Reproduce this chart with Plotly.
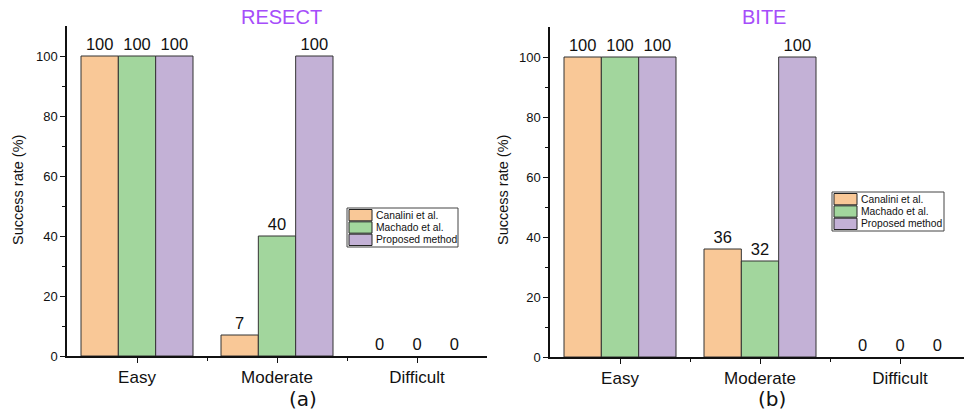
import plotly.graph_objects as go

categories = ["Easy", "Moderate", "Difficult"]
methods = ["Canalini et al.", "Machado et al.", "Proposed method"]
resect_values = {
    "Canalini et al.": [100, 7, 0],
    "Machado et al.": [100, 40, 0],
    "Proposed method": [100, 100, 0],
}
bite_values = {
    "Canalini et al.": [100, 36, 0],
    "Machado et al.": [100, 32, 0],
    "Proposed method": [100, 100, 0],
}
panel_titles = ["RESECT", "BITE"]
panel_labels = ["(a)", "(b)"]
y_ticks = [0, 20, 40, 60, 80, 100]

colors = {"Canalini et al.": "#f9c897", "Machado et al.": "#a2d69d", "Proposed method": "#c3b1d6"}
FONT = "Liberation Sans, Arial, sans-serif"
W, H = 964, 414

fig = go.Figure()
xpos = list(range(len(categories)))

for pi, data in enumerate([resect_values, bite_values]):
    xa = "x" if pi == 0 else "x2"
    ya = "y" if pi == 0 else "y2"
    for m in methods:
        fig.add_trace(go.Bar(
            x=xpos, y=data[m], name=m, xaxis=xa, yaxis=ya, showlegend=False,
            marker=dict(color=colors[m],
                        line=dict(color="#333333", width=[1 if v > 0 else 0 for v in data[m]])),
            text=[str(v) for v in data[m]], textposition="outside",
            textfont=dict(size=16.5, color="#111111", family=FONT),
            cliponaxis=False,
        ))

axis_common = dict(showline=True, linecolor="#111111", linewidth=1.5, ticks="outside",
                   tickcolor="#111111", showgrid=False, zeroline=False, automargin=False)
minor_x = dict(tickvals=[0.5, 1.5], ticklen=3, ticks="outside", tickcolor="#111111")
minor_y = dict(tickvals=[10, 30, 50, 70, 90], ticklen=3, ticks="outside", tickcolor="#111111")

fig.update_layout(
    width=W, height=H, margin=dict(l=0, r=0, t=0, b=0, autoexpand=False),
    plot_bgcolor="white", paper_bgcolor="white",
    barmode="group", bargap=0.2, bargroupgap=0,
    font=dict(family=FONT, color="#111111"),
    showlegend=False,
    xaxis=dict(domain=[67 / W, 487 / W], range=[-0.5, 2.5], tickvals=xpos, ticktext=categories,
               ticklen=5, tickfont=dict(size=17), anchor="y", minor=minor_x, **axis_common),
    yaxis=dict(domain=[(H - 356) / H, (H - 26) / H], range=[0, 110], tickvals=y_ticks, ticklen=5,
               tickfont=dict(size=13), anchor="x", minor=minor_y, **axis_common),
    xaxis2=dict(domain=[550 / W, 1.0], range=[-0.5, -0.5 + 414 / 140], tickvals=xpos, ticktext=categories,
                ticklen=5, tickfont=dict(size=17), anchor="y2", minor=minor_x, **axis_common),
    yaxis2=dict(domain=[(H - 357) / H, (H - 27) / H], range=[0, 110], tickvals=y_ticks, ticklen=5,
                tickfont=dict(size=13), anchor="x2", minor=minor_y, **axis_common),
)

# panel titles, y titles, panel labels
title_x = [281, 764]
ytitle_x = [18, 503]
label_x = [303, 772]
for i in range(2):
    fig.add_annotation(text=panel_titles[i], x=title_x[i] / W, y=1 - 17 / H, xref="paper", yref="paper",
                       showarrow=False, font=dict(size=20, color="#a64dfa", family=FONT),
                       xanchor="center", yanchor="middle")
    fig.add_annotation(text="Success rate (%)", x=ytitle_x[i] / W, y=1 - 190 / H, xref="paper", yref="paper",
                       showarrow=False, textangle=-90, font=dict(size=14.5, family=FONT),
                       xanchor="center", yanchor="middle")
    fig.add_annotation(text=panel_labels[i], x=label_x[i] / W, y=1 - 399 / H, xref="paper", yref="paper",
                       showarrow=False, font=dict(size=20, family="DejaVu Sans"),
                       xanchor="center", yanchor="middle")

# compact legends (Origin style), built from the methods/colors lists
legend_boxes = [(347, 208, 458, 247), (832, 192, 944, 231)]
for (lx0, ly0, lx1, ly1) in legend_boxes:
    fig.add_shape(type="rect", xref="paper", yref="paper",
                  x0=lx0 / W, x1=lx1 / W, y0=1 - ly0 / H, y1=1 - ly1 / H,
                  line=dict(color="#444444", width=1), fillcolor="white", layer="above")
    row_h = (ly1 - ly0 - 2) / len(methods)
    for k, m in enumerate(methods):
        top = ly0 + 1 + k * row_h
        fig.add_shape(type="rect", xref="paper", yref="paper",
                      x0=(lx0 + 2) / W, x1=(lx0 + 25) / W, y0=1 - (top + 0.5) / H, y1=1 - (top + row_h - 0.5) / H,
                      line=dict(color="#222222", width=1), fillcolor=colors[m], layer="above")
        fig.add_annotation(text=m, x=(lx0 + 27) / W, y=1 - (top + row_h / 2) / H, xref="paper", yref="paper",
                           showarrow=False, xanchor="left", yanchor="middle",
                           font=dict(size=10.3, family=FONT, color="#111111"))

fig.write_html("out.html")
